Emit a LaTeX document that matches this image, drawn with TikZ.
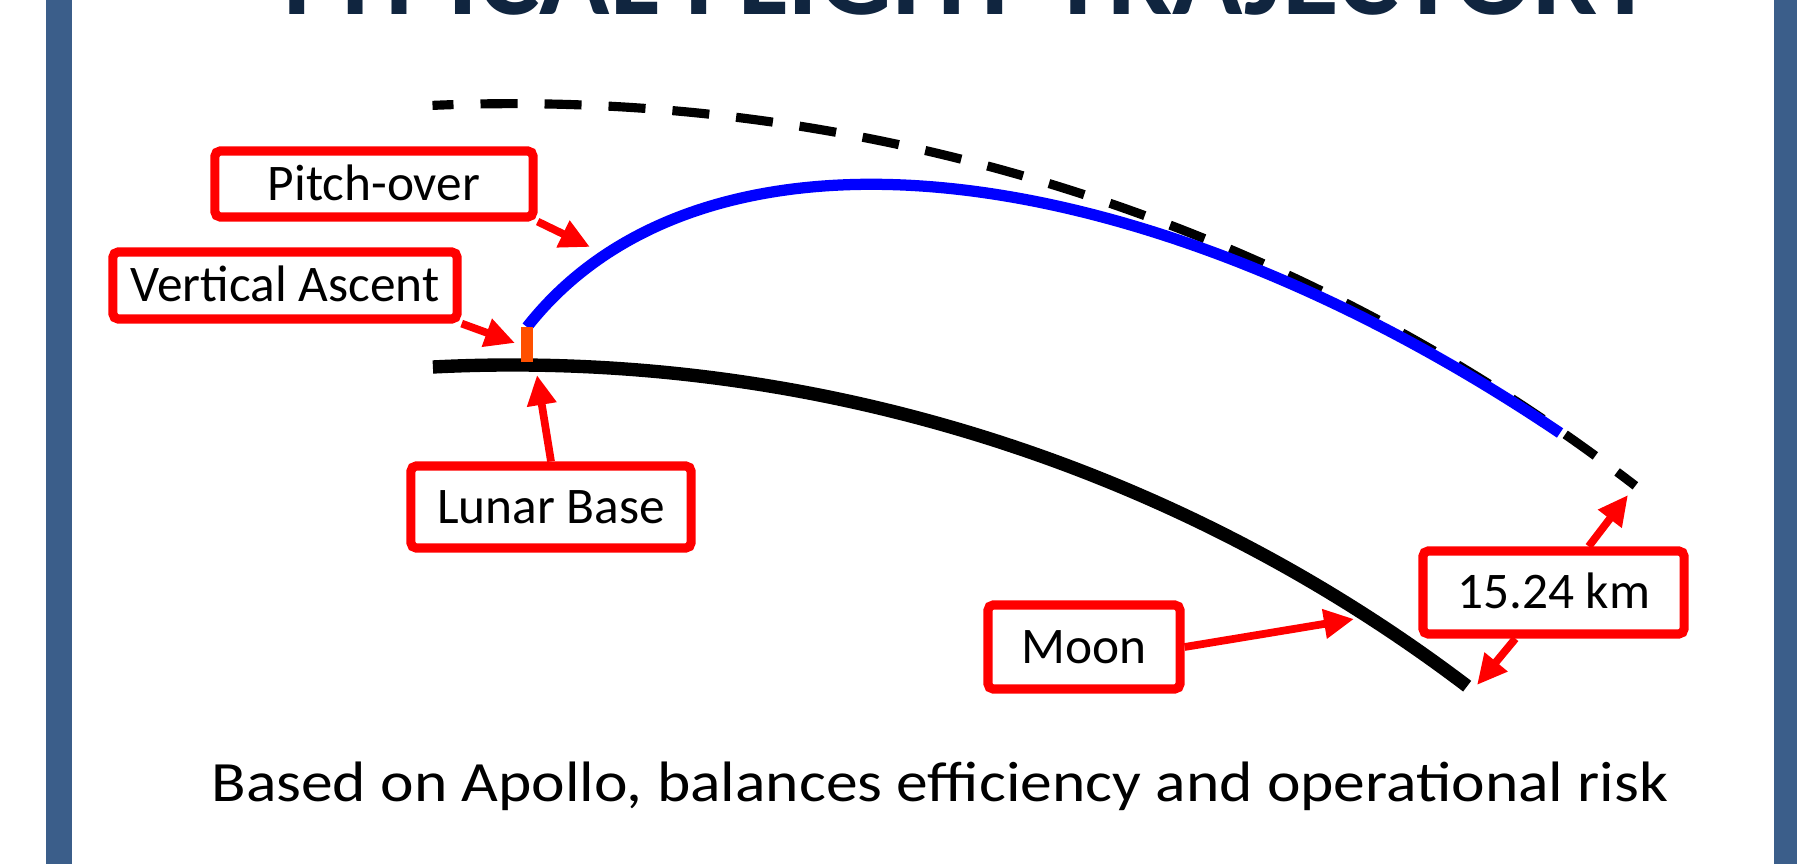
\documentclass[tikz,border=0pt]{standalone}
\usepackage{fontspec}
\setmainfont{Carlito}
\newfontfamily\capfont[FakeStretch=1.115]{Carlito}
\usepackage{xcolor}
\definecolor{slideblue}{RGB}{59,94,138}
\definecolor{titlenavy}{RGB}{16,37,63}
\definecolor{callred}{RGB}{255,0,0}
\definecolor{ascorange}{RGB}{255,80,0}
\definecolor{pathblue}{RGB}{0,0,255}
\usetikzlibrary{arrows.meta}

\begin{document}
\begin{tikzpicture}[x=0.01cm, y=-0.01cm,
  callbox/.style={
    rectangle, rounded corners=1.5pt,
    draw=callred, line width=2.6pt,
    fill=white,
    font=\fontsize{14.6}{17}\selectfont,
    text height=9.2pt, text depth=0pt,
    inner sep=0pt, align=center
  },
  callout/.style={-{Triangle[length=0.3cm, width=0.28cm]}, line width=2.2pt, draw=callred}
]
\useasboundingbox (0,0) rectangle (1797,864);
\clip (0,0) rectangle (1797,864);
\fill[white] (0,0) rectangle (1797,864);

% slide frame and title
\fill[slideblue] (46,0) rectangle (72,864);
\fill[slideblue] (1774,0) rectangle (1797,864);
\node[font=\fontsize{33}{36}\selectfont\bfseries, text=titlenavy, anchor=base] (title) at (962,15)
  {TYPICAL FLIGHT TRAJECTORY};

% orbit, trajectory and surface
\draw[line width=2.6pt, dash pattern=on 0.37cm off 0.27cm, dash phase=0.16cm]
  (432.5,105.4) arc[start angle=-92.5, end angle=-52.4, radius=1840];
\draw[pathblue, line width=3.2pt] (527,327) .. controls (705,100) and (1140,150) .. (1560,433);
\draw[line width=3.8pt] (432.9,367) arc[start angle=-92.9, end angle=-52.8, radius=1578.7];
\draw[ascorange, line width=3.3pt] (527,362) -- (527,327);

% callouts
\node[callbox, minimum width=3.18cm, minimum height=0.66cm] (pitch) at (374,184) {Pitch-over};
\node[callbox, minimum width=3.44cm, minimum height=0.67cm] (vert) at (285,285.5) {Vertical Ascent};
\node[callbox, minimum width=2.80cm, minimum height=0.82cm] (base) at (551,507) {Lunar Base};
\node[callbox, minimum width=1.92cm, minimum height=0.84cm] (moon) at (1084,647) {Moon};
\node[callbox, minimum width=2.61cm, minimum height=0.83cm] (dist) at (1553.5,592.5) {15.24 km};

\coordinate (pitchtip) at (590,247);
\coordinate (verttip) at (515,343);
\coordinate (basetip) at (537,375);
\coordinate (moontip) at (1354,619);
\coordinate (orbitend) at (1628,495);
\coordinate (surfend) at (1477,685);

\draw[callout] (pitch.south east) -- (pitchtip);
\draw[callout] (vert.south east) -- (verttip);
\draw[callout] (base.north) -- (basetip);
\draw[callout] (moon.east) -- (moontip);
\draw[callout] (dist) -- (orbitend);
\draw[callout] (dist) -- (surfend);

\node[font=\capfont\fontsize{16.2}{20}\selectfont, anchor=base] (caption) at (940,801)
  {Based on Apollo, balances efficiency and operational risk};
\end{tikzpicture}
\end{document}
